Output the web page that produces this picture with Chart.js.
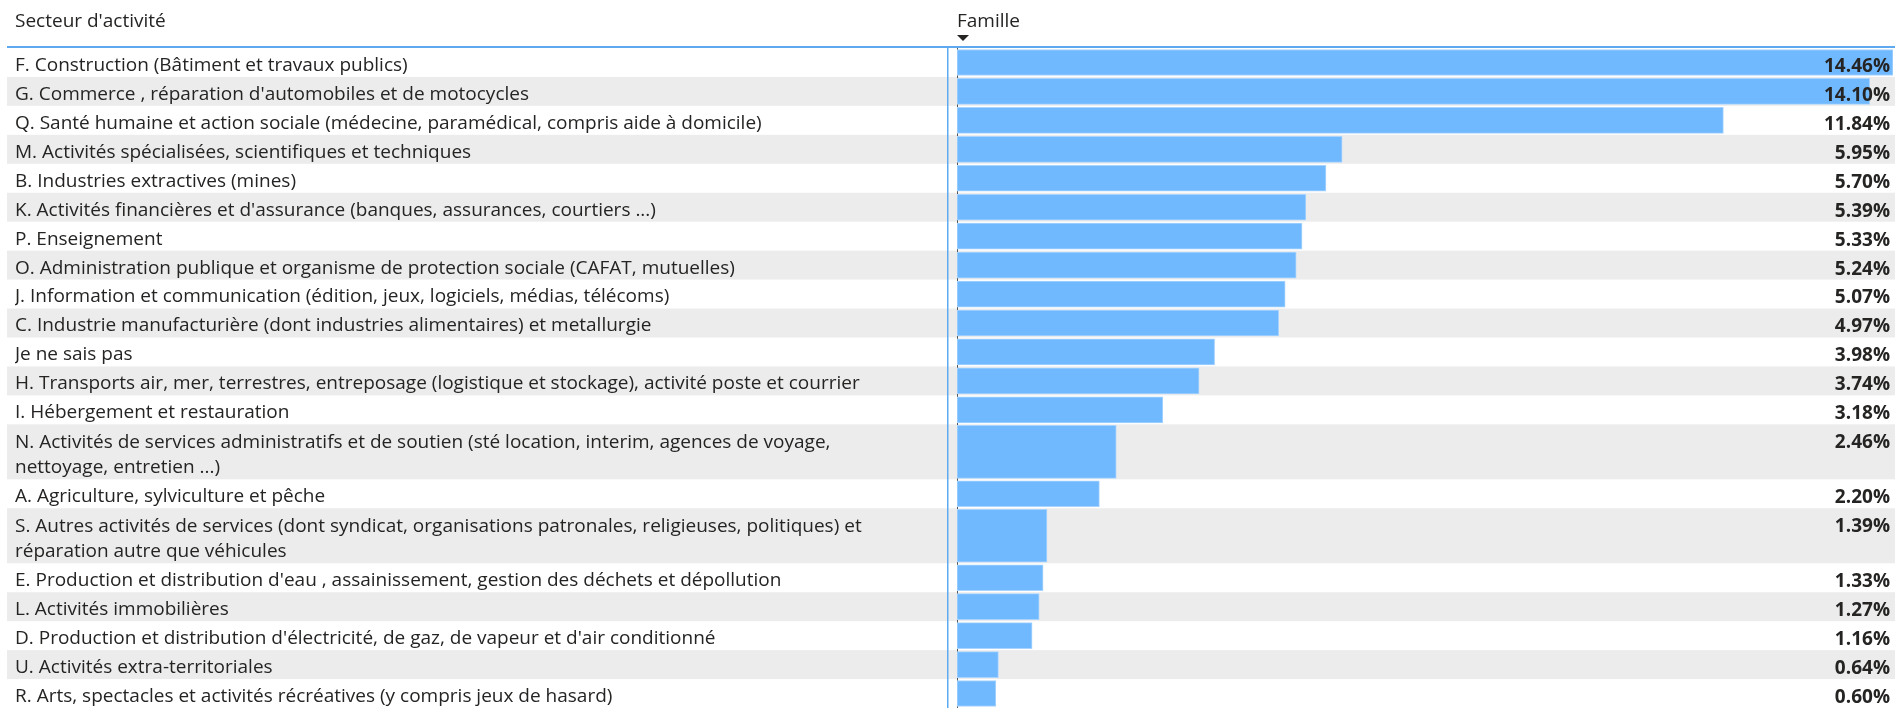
<!DOCTYPE html>
<html>
<head>
<meta charset="utf-8">
<script src="https://cdn.jsdelivr.net/npm/chart.js@4.4.0/dist/chart.umd.min.js"></script>
<style>
  html, body { margin: 0; background: #fff; }
  #wrap { position: relative; width: 1895px; height: 708px; }
</style>
</head>
<body>
<div id="wrap"><canvas id="chart"></canvas></div>
<script>
const headers = ["Secteur d'activité", "Famille"];

const sectors = [
  ["F. Construction (Bâtiment et travaux publics)"],
  ["G. Commerce , réparation d'automobiles et de motocycles"],
  ["Q. Santé humaine et action sociale (médecine, paramédical, compris aide à domicile)"],
  ["M. Activités spécialisées, scientifiques et techniques"],
  ["B. Industries extractives (mines)"],
  ["K. Activités financières et d'assurance (banques, assurances, courtiers ...)"],
  ["P. Enseignement"],
  ["O. Administration publique et organisme de protection sociale (CAFAT, mutuelles)"],
  ["J. Information et communication (édition, jeux, logiciels, médias, télécoms)"],
  ["C. Industrie manufacturière (dont industries alimentaires) et metallurgie"],
  ["Je ne sais pas"],
  ["H. Transports air, mer, terrestres, entreposage (logistique et stockage), activité poste et courrier"],
  ["I. Hébergement et restauration"],
  ["N. Activités de services administratifs et de soutien (sté location, interim, agences de voyage,", "nettoyage, entretien ...)"],
  ["A. Agriculture, sylviculture et pêche"],
  ["S. Autres activités de services (dont syndicat, organisations patronales, religieuses, politiques) et", "réparation autre que véhicules"],
  ["E. Production et distribution d'eau , assainissement, gestion des déchets et dépollution"],
  ["L. Activités immobilières"],
  ["D. Production et distribution d'électricité, de gaz, de vapeur et d'air conditionné"],
  ["U. Activités extra-territoriales"],
  ["R. Arts, spectacles et activités récréatives (y compris jeux de hasard)"]
];

const shares = [14.46, 14.10, 11.84, 5.95, 5.70, 5.39, 5.33, 5.24, 5.07, 4.97,
                3.98, 3.74, 3.18, 2.46, 2.20, 1.39, 1.33, 1.27, 1.16, 0.64, 0.60];

// row layout (in row units) derived from how many lines each label has
const spans = sectors.map(l => 1 + (l.length - 1) * 0.9);
const starts = [];
let total = 0;
spans.forEach(s => { starts.push(total); total += s; });
const centers = starts.map((s, i) => s + spans[i] / 2);

const FONT = "'Open Sans', sans-serif";
const TEXT = '#252423';

const singleRows = [], doubleRows = [];
sectors.forEach((l, i) => {
  (l.length > 1 ? doubleRows : singleRows).push({ x: shares[i], y: centers[i] });
});

const tablePlugin = {
  id: 'table',
  beforeDraw(chart) {
    const { ctx, chartArea, scales: { y } } = chart;
    const left = y.left - 8;
    ctx.save();
    sectors.forEach((l, i) => {
      if (i % 2 === 1) {
        const top = y.getPixelForValue(starts[i]);
        const bot = y.getPixelForValue(starts[i] + spans[i]);
        ctx.fillStyle = '#ececec';
        ctx.fillRect(left, top, chart.width - left, bot - top);
      }
    });
    ctx.fillStyle = '#5ea9f0';
    ctx.fillRect(left, chartArea.top - 2, chart.width - left, 2);
    ctx.fillRect(chartArea.left - 10, chartArea.top, 1.5, chartArea.bottom - chartArea.top);

    ctx.fillStyle = TEXT;
    ctx.font = '19px ' + FONT;
    ctx.textAlign = 'left';
    ctx.textBaseline = 'middle';
    ctx.fillText(headers[0], y.left, 22);
    ctx.fillText(headers[1], chartArea.left, 22);
    ctx.beginPath();
    ctx.moveTo(chartArea.left, 35);
    ctx.lineTo(chartArea.left + 12, 35);
    ctx.lineTo(chartArea.left + 6, 41);
    ctx.closePath();
    ctx.fill();
    ctx.restore();
  },
  afterDatasetsDraw(chart) {
    const { ctx, chartArea, scales: { y } } = chart;
    ctx.save();
    ctx.fillStyle = TEXT;
    ctx.font = 'bold 19px ' + FONT;
    ctx.textAlign = 'right';
    ctx.textBaseline = 'middle';
    shares.forEach((v, i) => {
      const py = y.getPixelForValue(starts[i] + 0.5);
      ctx.fillText(v.toFixed(2) + '%', chartArea.right - 3, py + 4);
    });
    ctx.restore();
  }
};

const barStyle = {
  backgroundColor: '#71b9ff',
  borderColor: '#a9d4ff',
  borderWidth: 1,
  borderSkipped: false
};

new Chart(document.getElementById('chart'), {
  type: 'bar',
  data: {
    datasets: [
      Object.assign({ data: singleRows, barThickness: 26 }, barStyle),
      Object.assign({ data: doubleRows, barThickness: 53 }, barStyle)
    ]
  },
  options: {
    indexAxis: 'y',
    responsive: true,
    maintainAspectRatio: false,
    animation: false,
    grouped: false,
    layout: { padding: { top: 48, left: 15, right: 2, bottom: 0 } },
    plugins: { legend: { display: false }, tooltip: { enabled: false } },
    scales: {
      x: { display: false, min: 0, max: Math.max(...shares) },
      y: {
        type: 'linear',
        min: 0,
        max: total,
        reverse: true,
        offset: false,
        z: 1,
        grid: { display: false, offset: false },
        border: { display: true, color: '#555', width: 1, dash: [2, 2] },
        afterBuildTicks: s => { s.ticks = centers.map(c => ({ value: c })); },
        afterFit: s => { s.width = 942; s.paddingTop = 0; s.paddingBottom = 0; },
        ticks: {
          autoSkip: false,
          crossAlign: 'far',
          padding: 0,
          labelOffset: 3,
          color: TEXT,
          font: { family: FONT, size: 19, lineHeight: '25px' },
          callback: (v, i) => sectors[i]
        }
      }
    }
  },
  plugins: [tablePlugin]
});
</script>
</body>
</html>
